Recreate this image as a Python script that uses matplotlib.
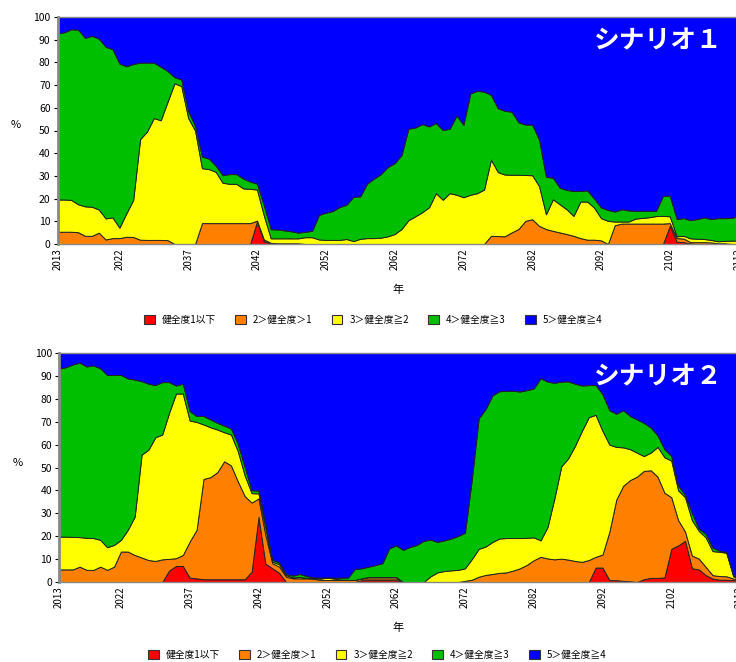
import matplotlib
matplotlib.use("Agg")
import matplotlib.pyplot as plt
from matplotlib.patches import Patch

plt.rcParams['font.family'] = ['Noto Sans CJK JP', 'DejaVu Sans']

# 年（毎年）
years = list(range(2013, 2116))

labels = ["健全度1以下", "2＞健全度＞1", "3＞健全度≧2", "4＞健全度≧3", "5＞健全度≧4"]
colors = ["#FF0000", "#FF8000", "#FFFF00", "#00BF00", "#0000FF"]

xtick_pos = [2013, 2022, 2032, 2042, 2052, 2062, 2072, 2082, 2092, 2102, 2112]
xtick_labels = ["2013", "2022", "2037", "2042", "2052", "2062", "2072", "2082", "2092", "2102", "2112"]

# シナリオ1 (%)
s1_red = [0, 0, 0, 0, 0, 0, 0,
          0, 0, 0, 0, 0, 0, 0, 0, 0, 0,
          0, 0, 0, 0, 0, 0, 0, 0, 0, 0,
          0, 0, 10.0, 1.2, 0.3, 0.2, 0.2, 0.2, 0.2, 0,
          0, 0, 0, 0, 0, 0, 0, 0, 0, 0,
          0, 0, 0, 0, 0, 0, 0, 0, 0, 0,
          0, 0, 0, 0, 0, 0, 0, 0, 0, 0,
          0, 0, 0, 0, 0, 0, 0, 0, 0, 0,
          0, 0, 0, 0, 0, 0, 0, 0, 0, 0,
          0, 0, 8.0, 1.0, 0.8, 0.2, 0, 0, 0, 0,
          0, 0, 0, 0, 0, 0]
s1_orange = [5.4, 5.4, 5.4, 5.2, 3.6, 3.6, 5.0,
             2.0, 2.6, 2.6, 3.2, 3.1, 1.9, 1.8, 1.8, 1.8, 1.7,
             0, 0, 0, 0, 9.2, 9.2, 9.2, 9.2, 9.2, 9.2,
             9.2, 9.2, 0.3, 0.8, 0.2, 0.1, 0.1, 0.1, 0.1, 0,
             0, 0, 0, 0, 0, 0, 0, 0, 0, 0,
             0, 0, 0, 0, 0, 0, 0, 0, 0, 0,
             0, 0, 0, 0, 0, 0, 3.6, 3.5, 3.4, 5.1,
             6.6, 10.2, 10.9, 8.0, 6.6, 5.8, 5.1, 4.4, 3.6, 2.6,
             1.9, 1.9, 1.6, 0, 8.3, 9.0, 9.0, 9.0, 9.0, 9.0,
             9.0, 9.0, 1.2, 1.6, 1.6, 0.6, 0.8, 0.8, 0.7, 0.3,
             0.3, 0, 0, 0, 0, 0]
s1_yellow = [14.2, 14.2, 14.0, 12.3, 13.0, 12.8, 10.2,
             9.3, 9.1, 4.6, 10.3, 16.3, 44.3, 47.7, 53.7, 52.7, 61.0,
             70.8, 69.6, 55.5, 50.0, 24.2, 23.8, 22.6, 17.8, 17.3, 17.3,
             15.3, 15.1, 13.7, 10.5, 2.0, 2.2, 2.2, 2.2, 2.2, 3.0,
             3.0, 2.0, 1.8, 1.8, 1.8, 2.2, 1.3, 2.3, 2.6, 2.6,
             2.8, 3.4, 4.4, 6.6, 10.5, 12.2, 14.0, 16.2, 22.4, 19.5,
             22.4, 21.7, 20.6, 21.7, 22.4, 24.0, 33.6, 28.2, 27.2, 25.4,
             23.9, 20.2, 19.4, 17.5, 6.5, 13.9, 12.4, 10.9, 8.8, 16.1,
             16.8, 14.1, 9.8, 10.2, 1.6, 0.9, 0.9, 2.2, 2.5, 2.8,
             3.3, 3.4, 3.0, 0.8, 1.2, 1.7, 1.5, 1.4, 1.1, 0.9,
             1.1, 1.5, 1.5, 1.5, 1.5, 1.5]
s1_green = [73.2, 73.7, 75.2, 76.9, 74.2, 75.3, 75.3,
            75.6, 74.1, 72.3, 64.8, 59.9, 33.7, 30.4, 24.4, 23.6, 13.5,
            2.7, 2.9, 3.0, 2.0, 5.1, 4.6, 2.7, 3.3, 4.3, 4.3,
            4.3, 3.2, 2.6, 4.5, 4.0, 3.9, 3.5, 3.1, 2.5, 2.4,
            2.8, 10.8, 12.0, 12.7, 14.5, 15.1, 19.4, 18.7, 24.0, 26.2,
            28.0, 30.5, 31.2, 32.6, 40.3, 39.1, 38.8, 35.6, 30.9, 30.7,
            28.4, 34.9, 31.9, 44.6, 45.1, 43.1, 28.5, 28.1, 28.1, 27.8,
            23.1, 22.2, 22.3, 20.5, 16.5, 9.5, 7.3, 8.5, 11.0, 4.7,
            4.9, 4.0, 4.7, 4.8, 4.4, 5.4, 4.9, 3.4, 3.1, 2.8,
            2.3, 8.8, 9.1, 7.6, 7.8, 8.0, 8.7, 9.5, 9.2, 10.2,
            10.0, 10.0, 10.9, 11.1, 11.2, 11.3]
s1_blue = [7.2, 6.7, 5.4, 5.6, 9.2, 8.3, 9.5,
           13.1, 14.2, 20.5, 21.7, 20.7, 20.1, 20.1, 20.1, 21.9, 23.8,
           26.5, 27.5, 41.5, 48.0, 61.5, 62.4, 65.5, 69.7, 69.2, 69.2,
           71.2, 72.5, 73.4, 83.0, 93.5, 93.6, 94.0, 94.4, 95.0, 94.6,
           94.2, 87.2, 86.2, 85.5, 83.7, 82.7, 79.3, 79.0, 73.4, 71.2,
           69.2, 66.1, 64.4, 60.8, 49.2, 48.7, 47.2, 48.2, 46.7, 49.8,
           49.2, 43.4, 47.5, 33.7, 32.5, 32.9, 34.3, 40.2, 41.3, 41.7,
           46.4, 47.4, 47.4, 54.0, 70.4, 70.8, 75.2, 76.2, 76.6, 76.6,
           76.4, 80.0, 83.9, 85.0, 85.7, 84.7, 85.2, 85.4, 85.4, 85.4,
           85.4, 78.8, 78.7, 89.0, 88.6, 89.5, 89.0, 88.3, 89.0, 88.6,
           88.6, 88.5, 87.6, 87.4, 87.3, 87.2]

# シナリオ2 (%)
s2_red = [0, 0, 0, 0, 0, 0, 0,
          0, 0, 0, 0, 0, 0, 0, 0, 0, 5.0,
          7.0, 7.0, 1.9, 1.6, 1.2, 1.2, 1.2, 1.2, 1.2, 1.2,
          1.2, 4.5, 28.5, 8.0, 6.0, 4.0, 0, 0, 0, 0,
          0, 0, 0, 0, 0, 0, 0, 0.8, 0.8, 0.8,
          0.8, 0.8, 0.8, 0, 0, 0, 0, 0, 0, 0,
          0, 0, 0, 0, 0, 0, 0, 0, 0, 0,
          0, 0, 0, 0, 0, 0, 0, 0, 0, 0,
          0, 6.3, 6.3, 0.8, 0.8, 0.5, 0.3, 0, 1.2, 1.8,
          1.8, 2.0, 14.5, 16.0, 18.0, 6.0, 5.5, 3.0, 1.5, 1.0,
          1.0, 0.8, 0.5, 0.3, 0.2, 0.2]
s2_orange = [5.5, 5.5, 5.5, 6.7, 5.3, 5.3, 6.7,
             5.3, 6.7, 13.3, 13.3, 11.8, 10.7, 9.6, 9.2, 9.9, 5.1,
             3.4, 4.8, 15.8, 21.2, 43.8, 44.6, 46.7, 51.5, 49.7, 42.7,
             36.3, 30.2, 8.0, 12.6, 2.2, 2.7, 2.3, 1.6, 1.6, 1.6,
             1.4, 0.9, 0.9, 0.9, 0.9, 0.9, 0.9, 0.8, 0.8, 0.8,
             0.8, 0.8, 0.8, 0, 0, 0, 0, 0, 0, 0,
             0, 0, 0.5, 1.0, 2.3, 3.1, 3.5, 4.0, 4.2, 5.0,
             6.0, 7.5, 9.5, 11.0, 10.3, 9.9, 10.2, 9.8, 9.2, 8.8,
             9.6, 4.7, 5.7, 21.2, 35.2, 41.5, 44.2, 46.0, 47.3, 47.0,
             44.2, 37.0, 22.5, 11.0, 4.0, 5.5, 4.7, 3.6, 1.5, 1.6,
             1.5, 0.7, 0.3, 0.2, 0.1, 0.1]
s2_yellow = [14.3, 14.3, 14.2, 12.9, 14.0, 13.9, 11.7,
             9.9, 9.5, 5.1, 9.5, 16.8, 44.9, 48.2, 54.0, 54.5, 63.8,
             71.9, 70.5, 52.8, 47.1, 23.8, 21.8, 18.7, 12.7, 13.5, 13.2,
             9.0, 4.1, 2.2, 2.9, 0.7, 1.0, 0.7, 0.4, 0.6, 0.2,
             0.4, 0.6, 1.0, 0.6, 0.1, 0, 0, 0, 0.6, 0.6,
             0.6, 0.6, 0.6, 0, 0, 0, 0, 2.5, 4.2, 4.8,
             5.1, 5.3, 5.5, 9.0, 12.2, 12.4, 14.0, 15.0, 15.0, 14.2,
             13.2, 11.8, 10.0, 7.2, 13.7, 26.6, 40.3, 44.2, 50.3, 57.2,
             62.4, 62.0, 54.0, 38.0, 23.0, 16.8, 13.5, 10.5, 6.5, 7.7,
             13.0, 15.5, 16.0, 13.0, 15.0, 15.5, 12.1, 12.9, 10.5, 10.6,
             10.3, 1.0, 0, 0, 0, 0]
s2_green = [73.4, 74.0, 75.3, 76.2, 74.8, 75.4, 74.9,
            75.2, 74.2, 72.0, 66.1, 59.8, 32.1, 28.8, 22.8, 22.9, 13.4,
            3.5, 4.3, 4.1, 2.6, 3.7, 3.4, 2.9, 2.9, 2.6, 3.2,
            3.6, 1.3, 1.2, 1.8, 0.8, 0.8, 0.5, 0.8, 1.3, 0.8,
            0.2, 0.4, 0.1, 0.4, 0.9, 1.0, 4.8, 4.4, 4.5, 5.2,
            6.0, 12.5, 13.8, 14.0, 15.3, 16.2, 18.0, 16.0, 13.3, 13.4,
            13.9, 14.8, 15.5, 35.0, 57.0, 60.0, 64.0, 64.3, 64.3, 64.3,
            64.0, 64.5, 65.0, 70.8, 63.5, 50.5, 37.0, 33.6, 27.1, 19.8,
            14.0, 13.0, 16.0, 15.0, 14.5, 16.2, 14.5, 14.5, 14.5, 11.0,
            5.0, 3.5, 2.0, 2.0, 1.0, 3.0, 1.0, 1.5, 1.5, 0.5,
            0.2, 0.5, 0.2, 0.1, 0.1, 0.1]
s2_blue = [6.8, 6.2, 5.0, 4.2, 5.9, 5.4, 6.7,
           9.6, 9.6, 9.6, 11.1, 11.6, 12.3, 13.4, 14.0, 12.7, 12.7,
           14.2, 13.4, 25.4, 27.5, 27.5, 29.0, 30.5, 31.7, 33.0, 39.7,
           49.9, 59.9, 60.1, 74.7, 90.3, 91.5, 96.5, 97.2, 96.5, 97.4,
           98.0, 98.1, 98.0, 98.1, 98.1, 98.1, 94.3, 94.0, 93.3, 92.6,
           91.8, 85.3, 84.0, 86.0, 84.7, 83.8, 82.0, 81.5, 82.5, 81.8,
           81.0, 79.9, 78.5, 55.0, 28.5, 24.5, 18.5, 16.7, 16.5, 16.5,
           16.8, 16.2, 15.5, 11.0, 12.5, 13.0, 12.5, 12.4, 13.4, 14.2,
           14.0, 14.0, 18.0, 25.0, 26.5, 25.0, 27.5, 29.0, 30.5, 32.5,
           36.0, 42.0, 45.0, 58.0, 62.0, 70.0, 76.7, 79.0, 85.0, 86.3,
           87.0, 97.0, 99.0, 99.4, 99.6, 99.6]

W, H = 736, 662
fig = plt.figure(figsize=(W / 100, H / 100), dpi=100)

# 描画範囲 (ピクセル) : 左, 上, 下, タイトル, 系列, 凡例の中心
panels = [
    (57.5, 17, 244, "シナリオ１", [s1_red, s1_orange, s1_yellow, s1_green, s1_blue], (373, 320)),
    (59.0, 353, 582, "シナリオ２", [s2_red, s2_orange, s2_yellow, s2_green, s2_blue], (377, 655)),
]
px_per_year = 6.88
x0, x1 = 2013, 2115

for left, top, bottom, title, series, leg_c in panels:
    width = (x1 - x0) * px_per_year
    ax = fig.add_axes([left / W, (H - bottom) / H, width / W, (bottom - top) / H])
    polys = ax.stackplot(years, *series, colors=colors)
    for p in polys:
        p.set_edgecolor("#222222")
        p.set_linewidth(0.7)
    ax.set_xlim(x0, x1)
    ax.set_ylim(0, 100)
    ax.set_yticks(range(0, 101, 10))
    ax.set_xticks(xtick_pos)
    ax.set_xticklabels(xtick_labels, rotation=90, fontsize=7)
    ax.tick_params(axis="y", labelsize=7.5, length=3, pad=2)
    ax.tick_params(axis="x", length=0, pad=3)
    for s in ax.spines.values():
        s.set_color("#888888")
        s.set_linewidth(1.0)
    ax.spines["left"].set_linewidth(2.0)
    ax.set_ylabel("%", rotation=0, fontsize=8)
    ax.yaxis.set_label_coords(-0.059, 0.5)
    ax.set_xlabel("年", fontsize=8)
    ax.xaxis.set_label_coords((398 - left) / width, -(285 - 244) / (bottom - top))
    ax.text((723 - left) / width, 0.955, title, transform=ax.transAxes,
            ha="right", va="top", color="white", fontsize=18.5, fontweight="bold")

    handles = [Patch(facecolor=c, edgecolor="#333333", linewidth=0.8) for c in colors]
    fig.legend(handles, labels, loc="center", bbox_to_anchor=(leg_c[0] / W, (H - leg_c[1]) / H),
               ncol=5, frameon=False, fontsize=7, handlelength=1.1, handleheight=1.1,
               handletextpad=0.7, columnspacing=2.0)

fig.savefig("out.png", dpi=100)
